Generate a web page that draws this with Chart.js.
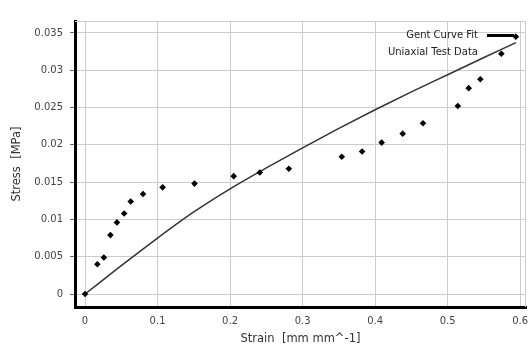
<!DOCTYPE html>
<html>
<head>
<meta charset="utf-8">
<script src="https://cdn.jsdelivr.net/npm/chart.js@4.4.0/dist/chart.umd.min.js"></script>
<style>
  body { margin: 0; background: #fff; }
  #wrap { width: 531px; height: 358px; }
</style>
</head>
<body>
<div id="wrap"><canvas id="stressChart"></canvas></div>
<script>
// test data
const strainTest = [0, 0.017, 0.026, 0.035, 0.044, 0.054, 0.063, 0.080, 0.107, 0.151, 0.205, 0.241, 0.281,
    0.354, 0.382, 0.409, 0.438, 0.466, 0.514, 0.529, 0.545, 0.574, 0.594];
const stressTest = [0, 0.0040, 0.0049, 0.0079, 0.0096, 0.0108, 0.0124, 0.0134, 0.0143, 0.0148, 0.0158, 0.0163, 0.0168,
    0.0184, 0.0191, 0.0203, 0.0215, 0.0229, 0.0252, 0.0276, 0.0288, 0.0322, 0.0345];

// gent fit curve
const strainFit = [0, 0.05, 0.1, 0.15, 0.2, 0.25, 0.3, 0.35, 0.4, 0.45, 0.5, 0.55, 0.594];
const stressFit = [0, 0.0038, 0.0075, 0.0110, 0.0141, 0.0169, 0.0196, 0.0222, 0.0247, 0.0271, 0.0294, 0.0317, 0.0337];

const xTicks = [0, 0.1, 0.2, 0.3, 0.4, 0.5, 0.6];
const xTickLabels = ["0", "0.1", "0.2", "0.3", "0.4", "0.5", "0.6"];
const yTicks = [0, 0.005, 0.01, 0.015, 0.02, 0.025, 0.03, 0.035];
const yTickLabels = ["0", "0.005", "0.01", "0.015", "0.02", "0.025", "0.03", "0.035"];

const legendLabels = ["Gent Curve Fit", "Uniaxial Test Data"];

const FONT = "'DejaVu Sans', sans-serif";

const frameAndLegend = {
    id: "frameAndLegend",
    beforeDatasetsDraw(chart) {
        const {ctx, chartArea: a} = chart;
        ctx.save();
        // top + right frame
        ctx.strokeStyle = "#cccccc";
        ctx.lineWidth = 1;
        ctx.beginPath();
        ctx.moveTo(a.left, a.top + 0.5);
        ctx.lineTo(a.right - 0.5, a.top + 0.5);
        ctx.lineTo(a.right - 0.5, a.bottom);
        ctx.stroke();

        // legend
        ctx.font = "10px " + FONT;
        ctx.fillStyle = "#222";
        ctx.textAlign = "right";
        ctx.textBaseline = "middle";
        ctx.fillText(legendLabels[0], 478, 35);
        ctx.fillText(legendLabels[1], 478, 52);
        ctx.strokeStyle = "#000";
        ctx.lineWidth = 3;
        ctx.beginPath();
        ctx.moveTo(487, 35.5);
        ctx.lineTo(514, 35.5);
        ctx.stroke();
        ctx.restore();
    }
};

new Chart(document.getElementById("stressChart"), {
    type: "scatter",
    data: {
        datasets: [
            {
                label: legendLabels[0],
                data: strainFit.map((x, i) => ({x: x, y: stressFit[i]})),
                showLine: true,
                borderColor: "#333333",
                borderWidth: 1.5,
                pointRadius: 0,
                cubicInterpolationMode: "monotone",
                order: 2
            },
            {
                label: legendLabels[1],
                data: strainTest.map((x, i) => ({x: x, y: stressTest[i]})),
                pointStyle: "rectRot",
                pointRadius: 3.3,
                backgroundColor: "#000",
                borderColor: "#000",
                borderWidth: 0,
                order: 1
            }
        ]
    },
    options: {
        responsive: true,
        maintainAspectRatio: false,
        animation: false,
        layout: {padding: {top: 21, right: 5, left: 0, bottom: 0}},
        plugins: {
            legend: {display: false},
            tooltip: {enabled: false}
        },
        scales: {
            x: {
                type: "linear",
                min: -0.0138,
                max: 0.608,
                afterBuildTicks: s => { s.ticks = xTicks.map(v => ({value: v})); },
                afterFit: s => { s.height = 51; s.paddingLeft = 0; s.paddingRight = 0; },
                grid: {color: "#cccccc", lineWidth: 1, drawTicks: false},
                border: {color: "#000", width: 3},
                ticks: {
                    padding: 8,
                    color: "#444",
                    font: {family: FONT, size: 10},
                    maxRotation: 0,
                    callback: (v) => xTickLabels[xTicks.indexOf(v)]
                },
                title: {
                    display: true,
                    text: "Strain  [mm mm^-1]",
                    color: "#333",
                    font: {family: FONT, size: 11.5},
                    padding: {top: 0, bottom: 12}
                }
            },
            y: {
                type: "linear",
                min: -0.00174,
                max: 0.0366,
                afterBuildTicks: s => { s.ticks = yTicks.map(v => ({value: v})); },
                afterFit: s => { s.width = 75; s.paddingTop = 0; s.paddingBottom = 0; },
                grid: {color: "#cccccc", lineWidth: 1, tickLength: 5, tickColor: "#666"},
                border: {color: "#000", width: 3},
                ticks: {
                    padding: 7,
                    color: "#444",
                    font: {family: FONT, size: 10},
                    callback: (v) => yTickLabels[yTicks.indexOf(v)]
                },
                title: {
                    display: true,
                    text: "Stress  [MPa]",
                    color: "#333",
                    font: {family: FONT, size: 11.5},
                    padding: {top: 10, bottom: 0}
                }
            }
        }
    },
    plugins: [frameAndLegend]
});
</script>
</body>
</html>
